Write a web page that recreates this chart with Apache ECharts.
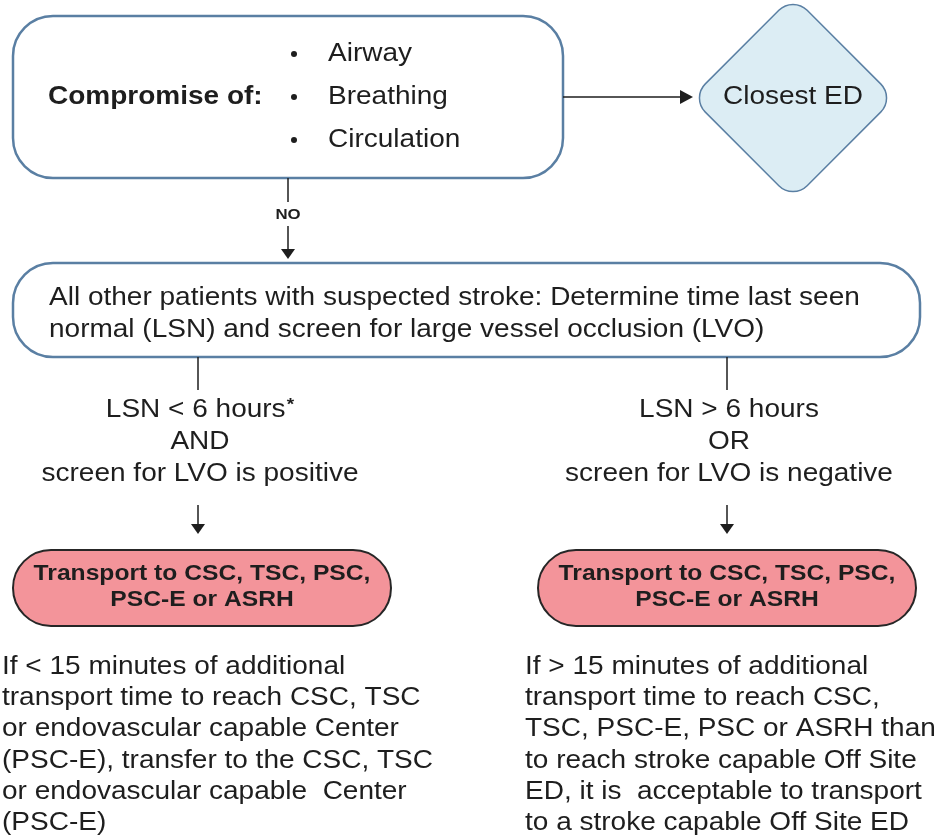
<!DOCTYPE html>
<html>
<head>
<meta charset="utf-8">
<script src="https://cdn.jsdelivr.net/npm/echarts@6/dist/echarts.min.js"></script>
<style>
	html, body { margin: 0; padding: 0; background: #fff; }
	#flow { width: 937px; height: 838px; }
</style>
</head>
<body>
<div id="flow"></div>
<script>
var topLabel = 'Compromise of:';
var abcItems = ['Airway', 'Breathing', 'Circulation'];
var edLabel = 'Closest ED';
var noLabel = 'NO';
var assessLines = [
	'All other patients with suspected stroke: Determine time last seen',
	'normal (LSN) and screen for large vessel occlusion (LVO)'
];
var leftCond = ['LSN < 6 hours{sup|*}', 'AND', 'screen for LVO is positive'];
var rightCond = ['LSN > 6 hours', 'OR', 'screen for LVO is negative'];
var transportLines = ['Transport to CSC, TSC, PSC,', 'PSC-E or ASRH'];
var leftNote = [
	'If < 15 minutes of additional',
	'transport time to reach CSC, TSC',
	'or endovascular capable Center',
	'(PSC-E), transfer to the CSC, TSC',
	'or endovascular capable  Center',
	'(PSC-E)'
];
var rightNote = [
	'If > 15 minutes of additional',
	'transport time to reach CSC,',
	'TSC, PSC-E, PSC or ASRH than',
	'to reach stroke capable Off Site',
	'ED, it is  acceptable to transport',
	'to a stroke capable Off Site ED'
];

var chart = echarts.init(document.getElementById('flow'));

var FONT = '"Liberation Sans", Arial, sans-serif';
var INK = '#1e1e1e';
var BLUE = '#5a7fa3';

function txt(str, x, y, opt) {
	return {
		type: 'text',
		x: x,
		y: y,
		scaleX: 1.12,
		style: Object.assign({
			text: str,
			fill: INK,
			fontSize: 25,
			fontFamily: FONT,
			textAlign: 'left',
			textVerticalAlign: 'middle',
			rich: { sup: { fontSize: 17, fontWeight: 'bold', fontFamily: FONT, fill: INK, padding: [0, 0, 10, 1] } }
		}, opt || {})
	};
}

function vline(x, y1, y2) {
	return { type: 'line', shape: { x1: x, y1: y1, x2: x, y2: y2 }, style: { stroke: INK, lineWidth: 1.5 } };
}

function downHead(x, y) {
	return { type: 'polygon', shape: { points: [[x - 7, y - 10], [x + 7, y - 10], [x, y]] }, style: { fill: INK } };
}

var els = [];

// top box
els.push({ type: 'rect', shape: { x: 13, y: 16, width: 550, height: 162, r: 40 },
	style: { fill: '#fff', stroke: BLUE, lineWidth: 2.5 } });
els.push(txt(topLabel, 48, 97, { fontWeight: 'bold' }));
abcItems.forEach(function(item, i) {
	var y = 54 + i * 43;
	els.push({ type: 'circle', shape: { cx: 294, cy: y, r: 3 }, style: { fill: INK } });
	els.push(txt(item, 328, y));
});

// arrow to closest ED
els.push({ type: 'line', shape: { x1: 563, y1: 97, x2: 682, y2: 97 }, style: { stroke: INK, lineWidth: 1.5 } });
els.push({ type: 'polygon', shape: { points: [[680, 90], [693, 97], [680, 104]] }, style: { fill: INK } });

// diamond
els.push({ type: 'rect', x: 793, y: 98, rotation: Math.PI / 4,
	shape: { x: -72, y: -72, width: 144, height: 144, r: 20 },
	style: { fill: '#dcedf4', stroke: BLUE, lineWidth: 1.5 } });
els.push(txt(edLabel, 793, 97, { textAlign: 'center' }));

// NO connector
els.push(vline(288, 178, 202));
els.push(txt(noLabel, 288, 215, { textAlign: 'center', fontSize: 15, fontWeight: 'bold' }));
els.push(vline(288, 226, 250));
els.push(downHead(288, 259));

// assessment box
els.push({ type: 'rect', shape: { x: 13, y: 263, width: 907, height: 94, r: 40 },
	style: { fill: '#fff', stroke: BLUE, lineWidth: 2.5 } });
assessLines.forEach(function(l, i) {
	els.push(txt(l, 49, 298 + i * 32));
});

// branches
[[198, leftCond, 13], [727, rightCond, 538]].forEach(function(b) {
	var cx = b[0];
	els.push(vline(cx, 357, 390));
	b[1].forEach(function(l, i) {
		els.push(txt(l, cx + 2, 410 + i * 32, { textAlign: 'center' }));
	});
	els.push(vline(cx, 505, 525));
	els.push(downHead(cx, 534));
	els.push({ type: 'rect', shape: { x: b[2], y: 550, width: 378, height: 76, r: 38 },
		style: { fill: '#f3949a', stroke: '#262626', lineWidth: 2 } });
	transportLines.forEach(function(l, i) {
		els.push(txt(l, b[2] + 189, 574 + i * 26, { textAlign: 'center', fontSize: 22, fontWeight: 'bold' }));
	});
});

// notes
leftNote.forEach(function(l, i) {
	els.push(txt(l, 2, 667 + i * 31.3));
});
rightNote.forEach(function(l, i) {
	els.push(txt(l, 525, 667 + i * 31.3));
});

chart.setOption({
	backgroundColor: '#fff',
	animation: false,
	graphic: { elements: els }
});
</script>
</body>
</html>
